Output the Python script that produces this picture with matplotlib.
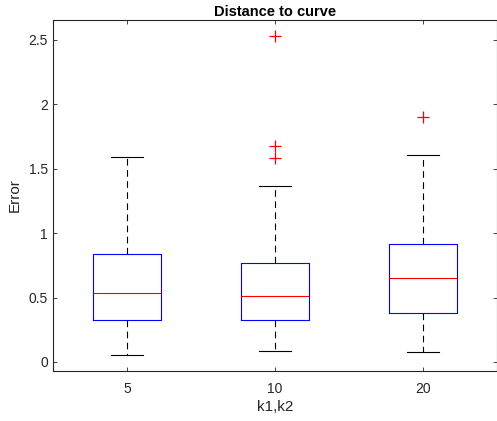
import matplotlib
matplotlib.use("Agg")
import matplotlib.pyplot as plt

plt.rcParams['font.family'] = ['Liberation Sans', 'DejaVu Sans']

# groups (k1,k2) and box statistics
labels = ["5", "10", "20"]
whislo = [0.054, 0.085, 0.078]
q1 = [0.326, 0.325, 0.380]
med = [0.535, 0.510, 0.652]
q3 = [0.840, 0.770, 0.916]
whishi = [1.590, 1.366, 1.607]
fliers = [[], [2.53, 1.68, 1.58], [1.90]]

stats = []
for i in range(len(labels)):
    stats.append(dict(label=labels[i], whislo=whislo[i], q1=q1[i], med=med[i],
                      q3=q3[i], whishi=whishi[i], fliers=fliers[i]))

fig = plt.figure(figsize=(4.97, 4.21), dpi=100)
ax = fig.add_axes([0.1066, 0.1188, 0.893, 0.8337])

ax.bxp(stats, widths=0.46, capwidths=0.22, showfliers=True,
       boxprops=dict(color='blue', linewidth=0.8),
       medianprops=dict(color='red', linewidth=0.8),
       whiskerprops=dict(color='black', linestyle=(0, (6, 4)), linewidth=0.8),
       capprops=dict(color='black', linewidth=0.8),
       flierprops=dict(marker='+', markeredgecolor='red', markersize=8,
                       linestyle='none', markeredgewidth=0.9))

ax.set_xlim(0.5, 3.5)
ax.set_ylim(-0.07, 2.655)
ax.set_yticks([0, 0.5, 1, 1.5, 2, 2.5])
ax.set_yticklabels(["0", "0.5", "1", "1.5", "2", "2.5"])

axcol = '#262626'
for s in ax.spines.values():
    s.set_color(axcol)
    s.set_linewidth(0.8)
ax.tick_params(direction='in', top=True, right=True, length=3, width=0.6,
               colors=axcol, labelsize=10, labelcolor=axcol)
ax.tick_params(axis='x', pad=8)

ax.set_title("Distance to curve", fontsize=10.5, fontweight='bold', pad=3)
ax.set_xlabel("k1,k2", fontsize=11, color=axcol, labelpad=3)
ax.set_ylabel("Error", fontsize=11, color=axcol, labelpad=5)

fig.savefig("out.png", dpi=100)
